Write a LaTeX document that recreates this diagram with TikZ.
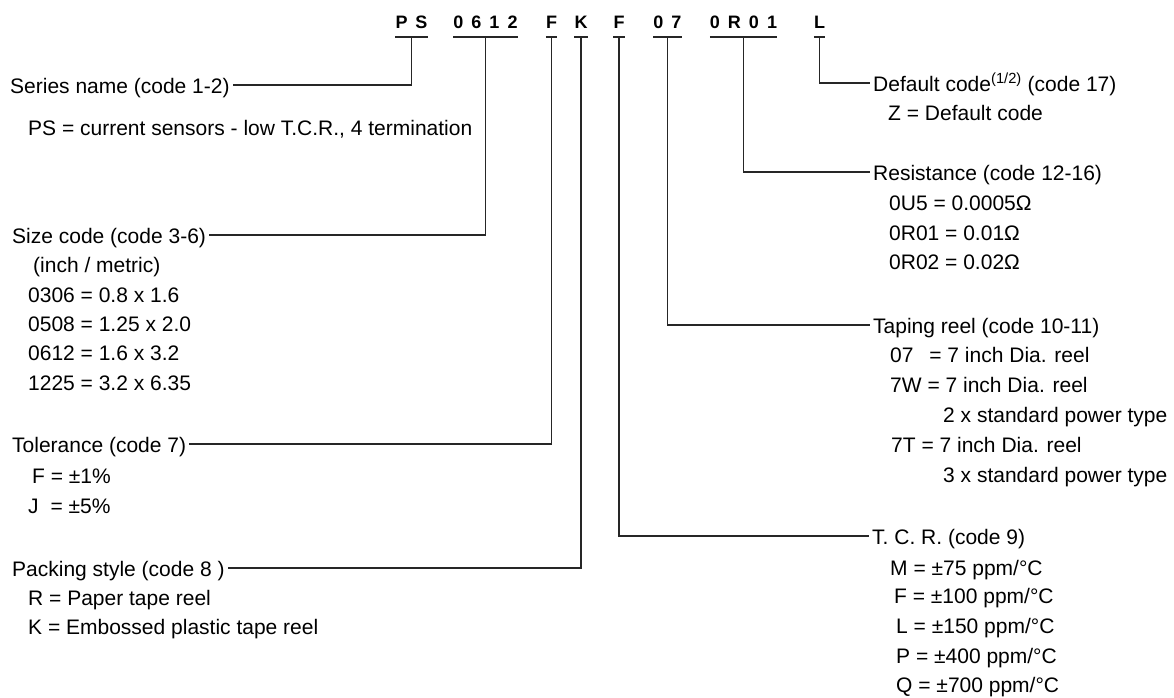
\documentclass[tikz,border=0pt]{standalone}
\usepackage{fontspec}
\setmainfont{Liberation Sans}
\newcommand{\gap}{\hspace{8pt}}

\begin{document}
\begin{tikzpicture}[x=1pt, y=-1pt,
    code/.style={font=\fontsize{18}{20}\selectfont\bfseries, inner sep=0pt, anchor=base},
    title/.style={font=\fontsize{21}{25}\selectfont, anchor=west, inner xsep=3pt, inner ysep=0pt,
      text height=18pt, text depth=2pt},
    item/.style={font=\fontsize{21}{25}\selectfont, anchor=base west, inner sep=0pt},
    link/.style={line width=1.1pt, black!85}]
  \useasboundingbox (0,0) rectangle (1174,697);

  % part number
  \node[code] (ps) at (411.5,28) {P\gap S};
  \node[code] (size) at (485.5,28) {0\gap 6\gap 1\gap 2};
  \node[code] (tol) at (551.5,28) {F};
  \node[code] (pack) at (581,28) {K};
  \node[code] (tcr) at (619,28) {F};
  \node[code] (reel) at (667.5,28) {0\gap 7};
  \node[code] (res) at (743.5,28) {0\gap R\gap 0\gap 1};
  \node[code] (def) at (819.5,28) {L};
  \foreach \n in {ps,size,tol,pack,tcr,reel,res,def}
    \draw[link] ([yshift=-9pt]\n.base west) -- ([yshift=-9pt]\n.base east);

  % left side
  \node[title] (t-ps) at (7,85) {Series name (code 1-2)};
  \node[item] (ps-1) at (28,135) {PS = current sensors - low T.C.R., 4 termination};

  \node[title] (t-size) at (9,235) {Size code (code 3-6)};
  \node[item] (size-1) at (33,272) {(inch / metric)};
  \node[item] (size-2) at (28,302) {0306 = 0.8 x 1.6};
  \node[item] (size-3) at (28,331) {0508 = 1.25 x 2.0};
  \node[item] (size-4) at (28,360) {0612 = 1.6 x 3.2};
  \node[item] (size-5) at (28,390) {1225 = 3.2 x 6.35};

  \node[title] (t-tol) at (9,444) {Tolerance (code 7)};
  \node[item] (tol-1) at (32,483) {F = ±1\%};
  \node[item] (tol-2) at (28,513) {J\hspace{6pt} = ±5\%};

  \node[title] (t-pack) at (9,568) {Packing style (code 8 )};
  \node[item] (pack-1) at (28,605) {R = Paper tape reel};
  \node[item] (pack-2) at (28,634) {K = Embossed plastic tape reel};

  % right side
  \node[title] (t-def) at (870,83) {Default code\textsuperscript{(1/2)} (code 17)};
  \node[item] (def-1) at (888,120) {Z = Default code};

  \node[title] (t-res) at (870,172) {Resistance (code 12-16)};
  \node[item] (res-1) at (889,210) {0U5 = 0.0005Ω};
  \node[item] (res-2) at (889,240) {0R01 = 0.01Ω};
  \node[item] (res-3) at (889,269) {0R02 = 0.02Ω};

  \node[title] (t-reel) at (870,325) {Taping reel (code 10-11)};
  \node[item] (reel-1) at (890,362) {07\hspace{10pt} = 7 inch Dia. reel};
  \node[item] (reel-2) at (890,392) {7W = 7 inch Dia. reel};
  \node[item] (reel-3) at (943,422) {2 x standard power type};
  \node[item] (reel-4) at (891,452) {7T = 7 inch Dia. reel};
  \node[item] (reel-5) at (943,482) {3 x standard power type};

  \node[title] (t-tcr) at (869,536) {T. C. R. (code 9)};
  \node[item] (tcr-1) at (890,575) {M = ±75 ppm/°C};
  \node[item] (tcr-2) at (894,603) {F = ±100 ppm/°C};
  \node[item] (tcr-3) at (896,633) {L = ±150 ppm/°C};
  \node[item] (tcr-4) at (896,663) {P = ±400 ppm/°C};
  \node[item] (tcr-5) at (896,692) {Q = ±700 ppm/°C};

  % connectors
  \draw[link] ([yshift=-9pt]ps.base) |- (t-ps);
  \draw[link] ([yshift=-9pt]size.base) |- (t-size);
  \draw[link] ([yshift=-9pt]tol.base) |- (t-tol);
  \draw[link] ([yshift=-9pt]pack.base) |- (t-pack);
  \draw[link] ([yshift=-9pt]tcr.base) |- (t-tcr);
  \draw[link] ([yshift=-9pt]reel.base) |- (t-reel);
  \draw[link] ([yshift=-9pt]res.base) |- (t-res);
  \draw[link] ([yshift=-9pt]def.base) |- (t-def);
\end{tikzpicture}
\end{document}
